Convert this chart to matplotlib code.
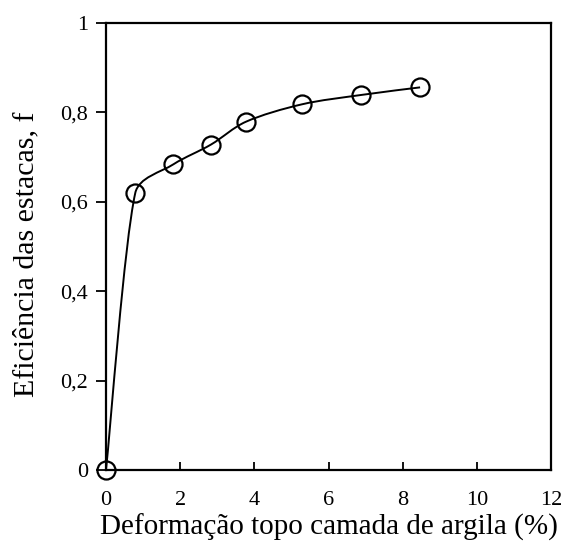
import numpy as np
import matplotlib.pyplot as plt
from matplotlib.path import Path
from matplotlib.patches import PathPatch
from matplotlib.ticker import FuncFormatter

# deformation at top of clay layer (%) and pile efficiency
deformacao = [0.0, 0.79, 1.82, 2.83, 3.77, 5.28, 6.88, 8.47]
eficiencia = [0.0, 0.62, 0.684, 0.728, 0.779, 0.818, 0.839, 0.856]

x_ticks = [0, 2, 4, 6, 8, 10, 12]
y_ticks = [0, 0.2, 0.4, 0.6, 0.8, 1.0]

plt.rcParams["font.family"] = ["Liberation Serif", "DejaVu Serif"]


def smooth_path(xs, ys, xspan, yspan):
    """Excel-like smoothed line: Catmull-Rom Bezier, handles clamped to segment length."""
    p = np.column_stack([np.asarray(xs) / xspan, np.asarray(ys) / yspan])
    n = len(p)
    scale = np.array([xspan, yspan])

    def handle(v, seg):
        lim = seg / 3
        ln = np.linalg.norm(v)
        return v * (lim / ln) if ln > lim else v

    verts = [tuple(p[0] * scale)]
    codes = [Path.MOVETO]
    for i in range(n - 1):
        i0 = max(i - 1, 0)
        i3 = min(i + 2, n - 1)
        seg = np.linalg.norm(p[i + 1] - p[i])
        c1 = p[i] + handle((p[i + 1] - p[i0]) / 6, seg)
        c2 = p[i + 1] - handle((p[i3] - p[i]) / 6, seg)
        verts += [tuple(c1 * scale), tuple(c2 * scale), tuple(p[i + 1] * scale)]
        codes += [Path.CURVE4] * 3
    return Path(verts, codes)


fig = plt.figure(figsize=(5.69, 5.43), dpi=100)
ax = fig.add_axes([106 / 569, 1 - 470 / 543, 445 / 569, 447 / 543])

ax.add_patch(PathPatch(smooth_path(deformacao, eficiencia, 12, 1),
                       facecolor="none", edgecolor="black", lw=1.4, zorder=2))
ax.plot(deformacao, eficiencia, "o", ms=13, mfc="none", mec="black",
        mew=1.6, zorder=3, clip_on=False)

ax.set_xlim(0, 12)
ax.set_ylim(0, 1)
ax.set_xticks(x_ticks)
ax.set_yticks(y_ticks)
fmt = FuncFormatter(lambda v, p: f"{v:g}".replace(".", ","))
ax.xaxis.set_major_formatter(fmt)
ax.yaxis.set_major_formatter(fmt)

for s in ax.spines.values():
    s.set_linewidth(1.6)
ax.tick_params(axis="x", direction="in", length=6, width=1.3, labelsize=16, pad=15)
ax.tick_params(axis="y", direction="out", length=7, width=1.3, labelsize=16, pad=6)

ax.set_xlabel("Deformação topo camada de argila (%)", fontsize=21, labelpad=3)
ax.set_ylabel("Eficiência das estacas, f", fontsize=21.5, labelpad=15)
ax.yaxis.label.set_y(0.483)

fig.savefig("out.png", dpi=100)
